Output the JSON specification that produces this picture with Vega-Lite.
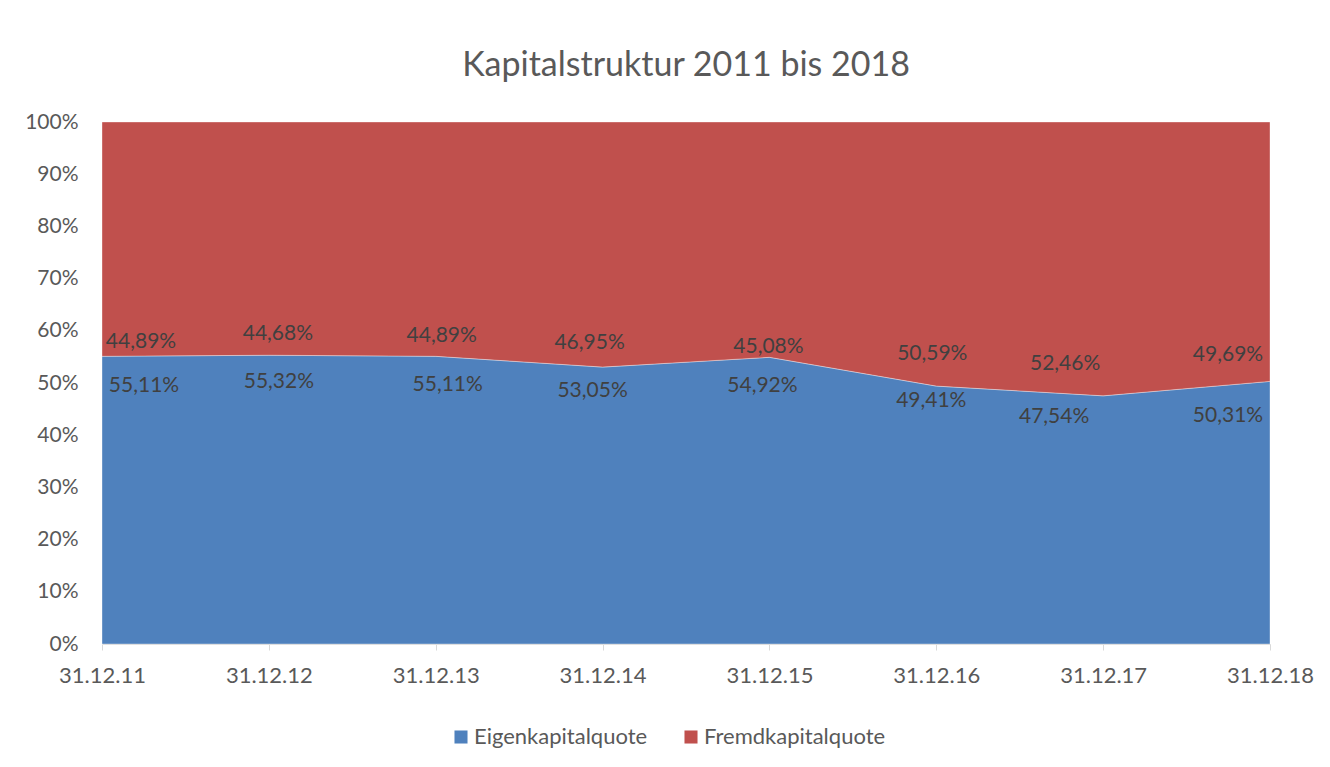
{
  "$schema": "https://vega.github.io/schema/vega-lite/v6.json",
  "autosize": "none",
  "width": 1168,
  "height": 522,
  "padding": {"left": 102, "top": 122, "right": 60, "bottom": 123},
  "background": "white",
  "title": {
    "text": "Kapitalstruktur 2011 bis 2018",
    "fontSize": 34,
    "font": "Lato",
    "fontWeight": "normal",
    "color": "#595959",
    "anchor": "middle",
    "offset": 28
  },
  "data": {
    "values": [
      {"Datum": "31.12.11", "Eigenkapitalquote": 0.5511, "Fremdkapitalquote": 0.4489},
      {"Datum": "31.12.12", "Eigenkapitalquote": 0.5532, "Fremdkapitalquote": 0.4468},
      {"Datum": "31.12.13", "Eigenkapitalquote": 0.5511, "Fremdkapitalquote": 0.4489},
      {"Datum": "31.12.14", "Eigenkapitalquote": 0.5305, "Fremdkapitalquote": 0.4695},
      {"Datum": "31.12.15", "Eigenkapitalquote": 0.5492, "Fremdkapitalquote": 0.4508},
      {"Datum": "31.12.16", "Eigenkapitalquote": 0.4941, "Fremdkapitalquote": 0.5059},
      {"Datum": "31.12.17", "Eigenkapitalquote": 0.4754, "Fremdkapitalquote": 0.5246},
      {"Datum": "31.12.18", "Eigenkapitalquote": 0.5031, "Fremdkapitalquote": 0.4969}
    ]
  },
  "encoding": {
    "x": {
      "field": "Datum",
      "type": "ordinal",
      "scale": {"type": "point", "padding": 0},
      "axis": {
        "title": null,
        "labelAngle": 0,
        "labelFontSize": 22,
        "labelFont": "Lato",
        "labelColor": "#595959",
        "domainColor": "#d9d9d9",
        "tickColor": "#d9d9d9",
        "tickSize": 6,
        "labelPadding": 15
      }
    }
  },
  "layer": [
    {
      "transform": [{"fold": ["Eigenkapitalquote", "Fremdkapitalquote"], "as": ["Quote", "Wert"]}],
      "mark": {"type": "area", "stroke": "#ffffff", "strokeWidth": 0.6, "strokeOpacity": 0.6},
      "encoding": {
        "y": {
          "field": "Wert",
          "type": "quantitative",
          "stack": "zero",
          "scale": {"domain": [0, 1]},
          "axis": {
            "title": null,
            "format": ".0%",
            "values": [0, 0.1, 0.2, 0.3, 0.4, 0.5, 0.6, 0.7, 0.8, 0.9, 1],
            "grid": false,
            "domain": false,
            "ticks": false,
            "labelFontSize": 21,
            "labelFont": "Lato",
            "labelColor": "#595959",
            "labelPadding": 24
          }
        },
        "color": {
          "field": "Quote",
          "type": "nominal",
          "scale": {"domain": ["Eigenkapitalquote", "Fremdkapitalquote"], "range": ["#4f81bd", "#c0504d"]},
          "legend": {
            "title": null,
            "orient": "none",
            "direction": "horizontal",
            "legendX": 348,
            "legendY": 604,
            "symbolType": "square",
            "symbolSize": 170,
            "symbolStrokeWidth": 0,
            "labelFontSize": 22,
            "labelFont": "Lato",
            "labelColor": "#595959",
            "labelOffset": 2,
            "labelLimit": 400,
            "columnPadding": 32
          }
        },
        "order": {"field": "Quote", "sort": "ascending"}
      }
    },
    {
      "transform": [{"filter": "datum.Datum == '31.12.11'"}],
      "layer": [
        {"mark": {"type": "text", "dx": 42, "dy": 30, "fontSize": 21, "font": "Lato", "color": "#404040"},
         "encoding": {"y": {"field": "Eigenkapitalquote", "type": "quantitative", "title": null}, "text": {"field": "Eigenkapitalquote", "type": "quantitative", "format": ".2%"}}},
        {"mark": {"type": "text", "dx": 39, "dy": -14, "fontSize": 21, "font": "Lato", "color": "#404040"},
         "encoding": {"y": {"field": "Eigenkapitalquote", "type": "quantitative", "title": null}, "text": {"field": "Fremdkapitalquote", "type": "quantitative", "format": ".2%"}}}
      ]
    },
    {
      "transform": [{"filter": "datum.Datum == '31.12.12'"}],
      "layer": [
        {"mark": {"type": "text", "dx": 10, "dy": 27, "fontSize": 21, "font": "Lato", "color": "#404040"},
         "encoding": {"y": {"field": "Eigenkapitalquote", "type": "quantitative", "title": null}, "text": {"field": "Eigenkapitalquote", "type": "quantitative", "format": ".2%"}}},
        {"mark": {"type": "text", "dx": 9, "dy": -21, "fontSize": 21, "font": "Lato", "color": "#404040"},
         "encoding": {"y": {"field": "Eigenkapitalquote", "type": "quantitative", "title": null}, "text": {"field": "Fremdkapitalquote", "type": "quantitative", "format": ".2%"}}}
      ]
    },
    {
      "transform": [{"filter": "datum.Datum == '31.12.13'"}],
      "layer": [
        {"mark": {"type": "text", "dx": 12, "dy": 29, "fontSize": 21, "font": "Lato", "color": "#404040"},
         "encoding": {"y": {"field": "Eigenkapitalquote", "type": "quantitative", "title": null}, "text": {"field": "Eigenkapitalquote", "type": "quantitative", "format": ".2%"}}},
        {"mark": {"type": "text", "dx": 6, "dy": -20, "fontSize": 21, "font": "Lato", "color": "#404040"},
         "encoding": {"y": {"field": "Eigenkapitalquote", "type": "quantitative", "title": null}, "text": {"field": "Fremdkapitalquote", "type": "quantitative", "format": ".2%"}}}
      ]
    },
    {
      "transform": [{"filter": "datum.Datum == '31.12.14'"}],
      "layer": [
        {"mark": {"type": "text", "dx": -10, "dy": 24, "fontSize": 21, "font": "Lato", "color": "#404040"},
         "encoding": {"y": {"field": "Eigenkapitalquote", "type": "quantitative", "title": null}, "text": {"field": "Eigenkapitalquote", "type": "quantitative", "format": ".2%"}}},
        {"mark": {"type": "text", "dx": -13, "dy": -24, "fontSize": 21, "font": "Lato", "color": "#404040"},
         "encoding": {"y": {"field": "Eigenkapitalquote", "type": "quantitative", "title": null}, "text": {"field": "Fremdkapitalquote", "type": "quantitative", "format": ".2%"}}}
      ]
    },
    {
      "transform": [{"filter": "datum.Datum == '31.12.15'"}],
      "layer": [
        {"mark": {"type": "text", "dx": -7, "dy": 29, "fontSize": 21, "font": "Lato", "color": "#404040"},
         "encoding": {"y": {"field": "Eigenkapitalquote", "type": "quantitative", "title": null}, "text": {"field": "Eigenkapitalquote", "type": "quantitative", "format": ".2%"}}},
        {"mark": {"type": "text", "dx": -1, "dy": -10, "fontSize": 21, "font": "Lato", "color": "#404040"},
         "encoding": {"y": {"field": "Eigenkapitalquote", "type": "quantitative", "title": null}, "text": {"field": "Fremdkapitalquote", "type": "quantitative", "format": ".2%"}}}
      ]
    },
    {
      "transform": [{"filter": "datum.Datum == '31.12.16'"}],
      "layer": [
        {"mark": {"type": "text", "dx": -5, "dy": 15, "fontSize": 21, "font": "Lato", "color": "#404040"},
         "encoding": {"y": {"field": "Eigenkapitalquote", "type": "quantitative", "title": null}, "text": {"field": "Eigenkapitalquote", "type": "quantitative", "format": ".2%"}}},
        {"mark": {"type": "text", "dx": -4, "dy": -32, "fontSize": 21, "font": "Lato", "color": "#404040"},
         "encoding": {"y": {"field": "Eigenkapitalquote", "type": "quantitative", "title": null}, "text": {"field": "Fremdkapitalquote", "type": "quantitative", "format": ".2%"}}}
      ]
    },
    {
      "transform": [{"filter": "datum.Datum == '31.12.17'"}],
      "layer": [
        {"mark": {"type": "text", "dx": -49, "dy": 21, "fontSize": 21, "font": "Lato", "color": "#404040"},
         "encoding": {"y": {"field": "Eigenkapitalquote", "type": "quantitative", "title": null}, "text": {"field": "Eigenkapitalquote", "type": "quantitative", "format": ".2%"}}},
        {"mark": {"type": "text", "dx": -38, "dy": -32, "fontSize": 21, "font": "Lato", "color": "#404040"},
         "encoding": {"y": {"field": "Eigenkapitalquote", "type": "quantitative", "title": null}, "text": {"field": "Fremdkapitalquote", "type": "quantitative", "format": ".2%"}}}
      ]
    },
    {
      "transform": [{"filter": "datum.Datum == '31.12.18'"}],
      "layer": [
        {"mark": {"type": "text", "dx": -42, "dy": 35, "fontSize": 21, "font": "Lato", "color": "#404040"},
         "encoding": {"y": {"field": "Eigenkapitalquote", "type": "quantitative", "title": null}, "text": {"field": "Eigenkapitalquote", "type": "quantitative", "format": ".2%"}}},
        {"mark": {"type": "text", "dx": -42, "dy": -26, "fontSize": 21, "font": "Lato", "color": "#404040"},
         "encoding": {"y": {"field": "Eigenkapitalquote", "type": "quantitative", "title": null}, "text": {"field": "Fremdkapitalquote", "type": "quantitative", "format": ".2%"}}}
      ]
    }
  ],
  "config": {
    "locale": {
      "number": {"decimal": ",", "thousands": ".", "grouping": [3], "currency": ["", " €"]}
    },
    "view": {"stroke": null}
  }
}
